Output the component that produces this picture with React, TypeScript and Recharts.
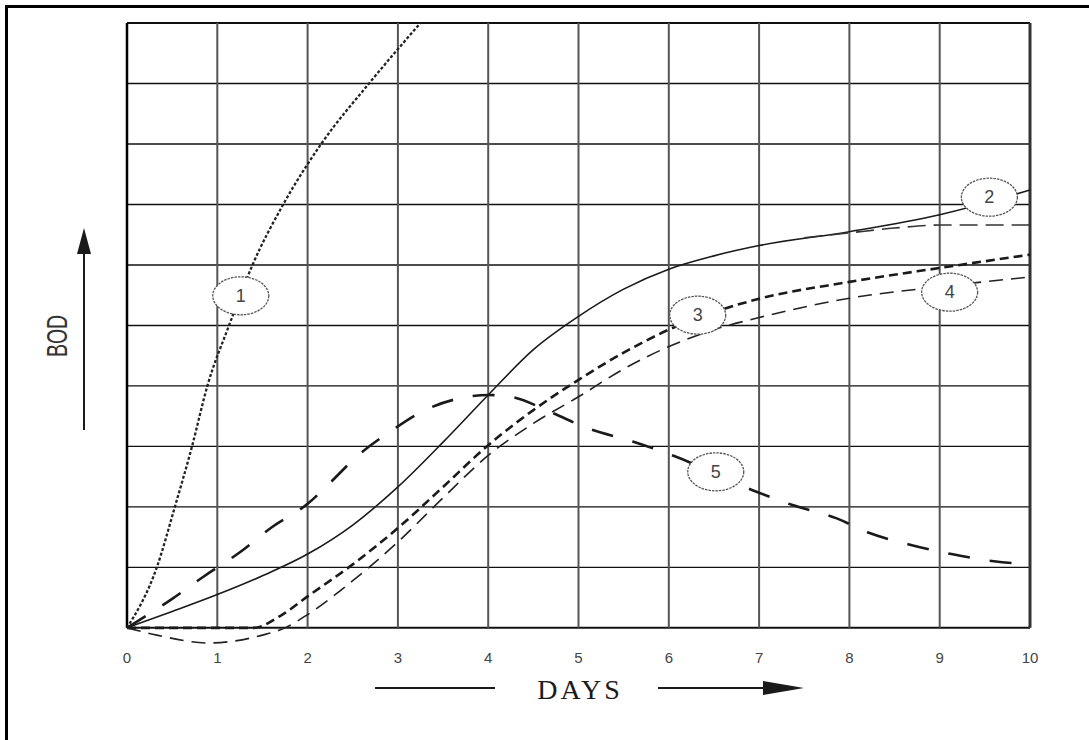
import { Line, LineChart, ReferenceDot, ReferenceLine, XAxis, YAxis } from "recharts";

const DAY_TICKS = [0, 1, 2, 3, 4, 5, 6, 7, 8, 9, 10];
const BOD_TICKS = [0, 1, 2, 3, 4, 5, 6, 7, 8, 9, 10];

// curve 1 - dotted, very fast rise
const curve1Days = [0, 0.33, 0.53, 0.72, 0.89, 1.13, 1.39, 1.73, 2.15, 2.68, 3.25];
const curve1Bod = [0, 1, 2, 3, 4, 5, 6, 7, 8, 9, 10];

// curve 2 - solid
const curve2Days = [0, 0.5, 1, 1.5, 2, 2.5, 3, 3.5, 4, 4.5, 5, 5.5, 6, 6.5, 7, 8, 9, 10];
const curve2Bod = [0, 0.27, 0.55, 0.86, 1.22, 1.7, 2.33, 3.07, 3.85, 4.6, 5.15, 5.6, 5.93, 6.15, 6.32, 6.55, 6.83, 7.24];

// plateau branch leaving curve 2
const plateauDays = [7.5, 8, 8.5, 9, 10];
const plateauBod = [6.45, 6.53, 6.61, 6.66, 6.66];

// curve 3 - heavy dashes, lag then rise
const curve3Days = [0, 1.4, 1.7, 2, 2.5, 3, 3.5, 4, 4.5, 5, 5.5, 6, 6.5, 7, 8, 9, 10];
const curve3Bod = [0, 0, 0.2, 0.52, 1.05, 1.65, 2.33, 3.02, 3.6, 4.1, 4.55, 4.93, 5.22, 5.44, 5.72, 5.95, 6.17];

// curve 4 - thin dashes, dips below zero first
const curve4Days = [0, 0.33, 0.9, 1.5, 1.75, 2, 2.5, 3, 3.5, 4, 4.5, 5, 5.5, 6, 6.5, 7, 8, 9, 10];
const curve4Bod = [0, -0.12, -0.25, -0.12, 0, 0.22, 0.78, 1.42, 2.15, 2.85, 3.38, 3.82, 4.28, 4.65, 4.93, 5.13, 5.45, 5.64, 5.8];

// curve 5 - long dashes, rises then falls
const curve5Days = [0, 0.5, 0.85, 1.25, 1.6, 2, 2.25, 2.55, 2.9, 3.3, 3.7, 4, 4.25, 4.7, 5.1, 5.6, 6.06, 6.92, 7.37, 7.86, 8.2, 8.66, 9.13, 9.6, 10];
const curve5Bod = [0, 0.48, 0.85, 1.25, 1.66, 2.05, 2.4, 2.84, 3.23, 3.6, 3.8, 3.85, 3.82, 3.56, 3.3, 3.08, 2.84, 2.28, 2.03, 1.81, 1.58, 1.38, 1.22, 1.1, 1.05];

const tagNames = ["1", "2", "3", "4", "5"];
const tagDays = [1.26, 9.55, 6.32, 9.11, 6.52];
const tagBod = [5.49, 7.12, 5.17, 5.55, 2.58];

const toPoints = (days: number[], values: number[]) =>
  days.map((day, i) => ({ day, bod: values[i] }));

const INK = "#1a1a1a";

function CurveTag({ cx, cy, name }: { cx?: number; cy?: number; name: string }) {
  if (cx == null || cy == null) return <g />;
  return (
    <g>
      <ellipse cx={cx} cy={cy} rx={28} ry={19} fill="#fff" stroke="#555" strokeWidth={1.3} strokeDasharray="2.5 1" />
      <text
        x={cx}
        y={cy}
        textAnchor="middle"
        dominantBaseline="central"
        fontFamily="Liberation Sans, Arial, sans-serif"
        fontSize={18}
        fill="#444"
      >
        {name}
      </text>
    </g>
  );
}

function DaysTitle() {
  return (
    <g>
      <line x1={375} y1={688} x2={495} y2={688} stroke={INK} strokeWidth={2} />
      <text
        x={580}
        y={699}
        textAnchor="middle"
        fontFamily="Liberation Serif, Times New Roman, serif"
        fontSize={28}
        letterSpacing={3}
        fill="#1a1a1a"
      >
        DAYS
      </text>
      <line x1={658} y1={688} x2={770} y2={688} stroke={INK} strokeWidth={2} />
      <polygon points="804,688 763,681 763,695" fill={INK} />
    </g>
  );
}

function BodTitle() {
  return (
    <g>
      <text
        transform="translate(56,336) rotate(-90) scale(0.65,1)"
        textAnchor="middle"
        dominantBaseline="central"
        fontFamily="Liberation Sans, Arial, sans-serif"
        fontSize={30}
        fill="#333"
      >
        BOD
      </text>
      <line x1={84} y1={430} x2={84} y2={250} stroke={INK} strokeWidth={2} />
      <polygon points="84,228 77,254 91,254" fill={INK} />
    </g>
  );
}

export default function App() {
  return (
    <div style={{ position: "absolute", left: 0, top: 0, width: 1089, height: 740, background: "#fff", overflow: "hidden" }}>
      <div
        style={{
          position: "absolute",
          left: 5,
          top: 5,
          width: 1100,
          height: 760,
          borderLeft: "3px solid #000",
          borderTop: "3px solid #000",
        }}
      />
      <div style={{ position: "absolute", left: 0, top: 0 }}>
        <LineChart width={1089} height={740} margin={{ top: 23, right: 59, bottom: 64, left: 127 }}>
          <XAxis
            type="number"
            dataKey="day"
            domain={[0, 10]}
            ticks={DAY_TICKS}
            interval={0}
            axisLine={false}
            tickLine={false}
            tickSize={0}
            tickMargin={6}
            height={30}
            tick={{ fill: "#444", fontSize: 15, fontFamily: "Liberation Sans, Arial, sans-serif" }}
            label={{ content: () => <DaysTitle /> }}
          />
          <YAxis type="number" dataKey="bod" domain={[-0.3, 10]} ticks={BOD_TICKS} allowDataOverflow hide />

          {BOD_TICKS.map((v) => (
            <ReferenceLine key={`h${v}`} y={v} stroke="#111" strokeWidth={v === 0 || v === 10 ? 2 : 1.4} />
          ))}
          {DAY_TICKS.map((d) => (
            <ReferenceLine
              key={`v${d}`}
              segment={[
                { x: d, y: 0 },
                { x: d, y: 10 },
              ]}
              stroke={d === 0 ? "#000" : d === 10 ? "#333" : "#555"}
              strokeWidth={d === 0 ? 2.5 : d === 10 ? 3 : 2}
            />
          ))}

          <Line data={toPoints(curve1Days, curve1Bod)} dataKey="bod" type="monotone" stroke="#222" strokeWidth={2.3} strokeDasharray="3 2" dot={false} isAnimationActive={false} />
          <Line data={toPoints(curve2Days, curve2Bod)} dataKey="bod" type="monotone" stroke={INK} strokeWidth={1.6} dot={false} isAnimationActive={false} />
          <Line data={toPoints(plateauDays, plateauBod)} dataKey="bod" type="monotone" stroke="#333" strokeWidth={1.6} strokeDasharray="18 8" dot={false} isAnimationActive={false} />
          <Line data={toPoints(curve3Days, curve3Bod)} dataKey="bod" type="monotone" stroke={INK} strokeWidth={2.6} strokeDasharray="9 5" dot={false} isAnimationActive={false} />
          <Line data={toPoints(curve4Days, curve4Bod)} dataKey="bod" type="monotone" stroke="#222" strokeWidth={1.6} strokeDasharray="14 8" dot={false} isAnimationActive={false} />
          <Line data={toPoints(curve5Days, curve5Bod)} dataKey="bod" type="monotone" stroke={INK} strokeWidth={2.6} strokeDasharray="22 20" dot={false} isAnimationActive={false} />

          {tagNames.map((name, i) => (
            <ReferenceDot
              key={`tag${name}`}
              x={tagDays[i]}
              y={tagBod[i]}
              r={19}
              shape={(p: any) => <CurveTag cx={p.cx} cy={p.cy} name={name} />}
            />
          ))}
        </LineChart>
      </div>
      <svg width={1089} height={740} style={{ position: "absolute", left: 0, top: 0, pointerEvents: "none" }}>
        <BodTitle />
      </svg>
    </div>
  );
}
